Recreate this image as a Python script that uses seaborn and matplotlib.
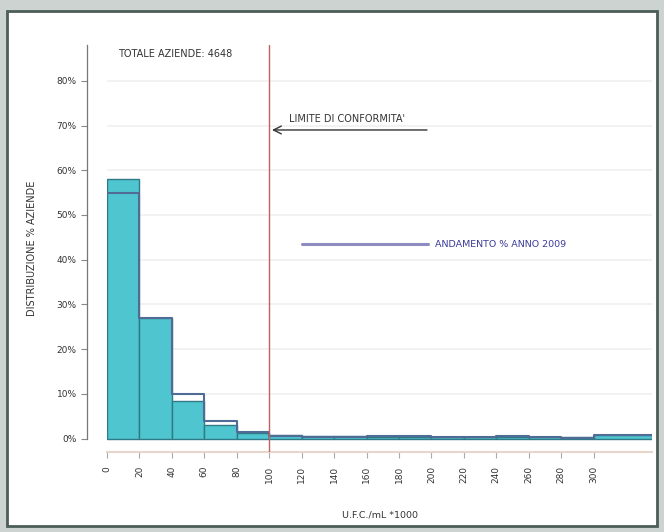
import numpy as np
import pandas as pd
import seaborn as sns
import matplotlib.pyplot as plt
from matplotlib.patches import Rectangle

# ---- data ----
bin_edges = [0, 20, 40, 60, 80, 100, 120, 140, 160, 180, 200, 220, 240, 260, 280, 300, 336]
current_pct = [58.0, 27.0, 8.5, 3.0, 1.2, 0.7, 0.5, 0.5, 0.4, 0.4, 0.3, 0.3, 0.4, 0.3, 0.3, 0.8]
pct_2009 = [55.0, 27.0, 10.0, 4.0, 1.5, 0.6, 0.4, 0.4, 0.5, 0.5, 0.3, 0.3, 0.5, 0.3, 0.2, 0.8]
x_ticks = [0, 20, 40, 60, 80, 100, 120, 140, 160, 180, 200, 220, 240, 260, 280, 300]
y_ticks = [0, 10, 20, 30, 40, 50, 60, 70, 80]
y_tick_labels = ["0%", "10%", "20%", "30%", "40%", "50%", "60%", "70%", "80%"]
limit_value = 100
total_text = "TOTALE AZIENDE: 4648"
limit_text = "LIMITE DI CONFORMITA'"
legend_text = "ANDAMENTO % ANNO 2009"

left_edges = bin_edges[:-1]
df_cur = pd.DataFrame({"x": left_edges, "w": current_pct})
df_09 = pd.DataFrame({"x": left_edges, "w": pct_2009})

sns.set_style("white")
plt.rcParams['font.family'] = ['DejaVu Sans']

fig = plt.figure(figsize=(6.64, 5.32), dpi=100)
fig.patch.set_facecolor("#cdd3d0")
fig.patches.append(Rectangle((7/664, 6/532), 650/664, 515/532, transform=fig.transFigure,
                             facecolor="white", edgecolor="#4b5e58", linewidth=2, zorder=-10))

ax = fig.add_axes([107/664, (532-452)/532, 545/664, (452-45)/532])
ax.set_zorder(5)
ax.set_facecolor("none")

for s in ["top", "right"]:
    ax.spines[s].set_visible(False)
ax.spines["left"].set_position(("outward", 14.4))

for yv in y_ticks[1:]:
    ax.axhline(yv, color="#f0f0f0", linewidth=1.2, zorder=0)

sns.histplot(data=df_cur, x="x", weights="w", bins=bin_edges, stat="count",
             element="bars", fill=True, color="#4fc5d0", alpha=1.0,
             edgecolor="#2f7a86", linewidth=1.0, ax=ax, zorder=2)
sns.histplot(data=df_09, x="x", weights="w", bins=bin_edges, stat="count",
             element="step", fill=False, color="#4f6b96", linewidth=1.5, ax=ax, zorder=3)

ax.axvline(limit_value, color="#c06060", linewidth=1.0, zorder=4)
ax.annotate("", xy=(limit_value, 69), xytext=(199, 69),
            arrowprops=dict(arrowstyle="->", color="#333333", lw=1.0, mutation_scale=14))
ax.text(112, 71.5, limit_text, fontsize=7, color="#333333", va="center", ha="left")
ax.text(7, 86, total_text, fontsize=7, color="#333333", va="center", ha="left")
ax.plot([120, 198], [43.4, 43.4], color="#8c8cc0", linewidth=2.2, zorder=5)
ax.text(202, 43.4, legend_text, fontsize=6.8, color="#3a3a9a", va="center", ha="left")

ax.set_xlim(0, 336)
ax.set_ylim(-3, 88)
ax.set_yticks(y_ticks)
ax.set_yticklabels(y_tick_labels, fontsize=6.5, color="#333333")
ax.set_xticks(x_ticks)
ax.set_xticklabels([str(v) for v in x_ticks], rotation=90, fontsize=6.5, color="#333333")
ax.tick_params(axis="y", length=4, width=0.8, color="#888888", pad=3.5, left=True)
ax.tick_params(axis="x", length=4, width=0.8, color="#aaaaaa", pad=6, bottom=True)

ax.spines["left"].set_bounds(0, 88)
ax.spines["left"].set_color("#777777")
ax.spines["left"].set_linewidth(0.9)
ax.spines["bottom"].set_color("#e8d6cc")
ax.spines["bottom"].set_linewidth(1.5)

ax.set_ylabel("DISTRIBUZIONE % AZIENDE", fontsize=7, color="#333333", labelpad=14)
ax.set_xlabel("U.F.C./mL *1000", fontsize=6.8, color="#333333", labelpad=20)

fig.savefig("out.png", dpi=100, facecolor=fig.get_facecolor())
